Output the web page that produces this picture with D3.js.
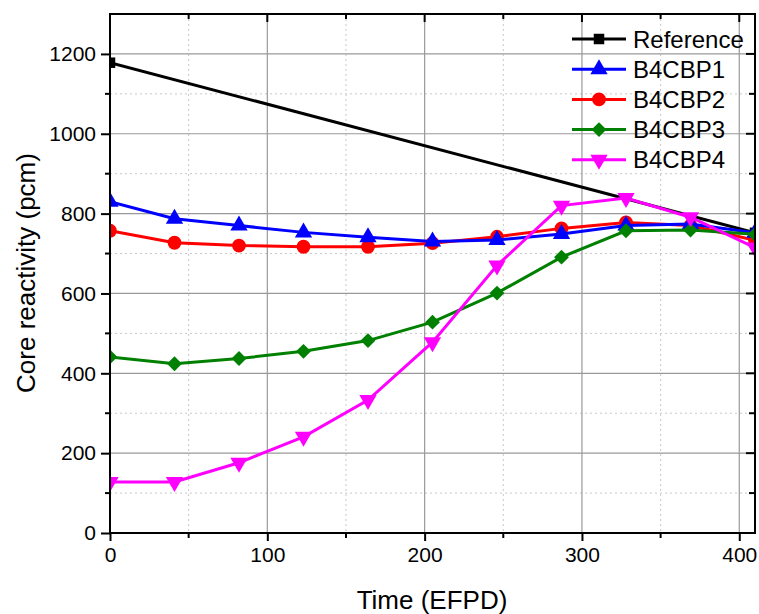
<!DOCTYPE html>
<html><head><meta charset="utf-8">
<script src="https://cdn.jsdelivr.net/npm/d3@7"></script>
<style>body{margin:0;background:#fff}svg{display:block}text{font-family:"Liberation Sans",Arial,sans-serif}</style>
</head><body><svg id="c" width="759" height="614"></svg>
<script>
const xTicks = [0, 100, 200, 300, 400];
const yTicks = [0, 200, 400, 600, 800, 1000, 1200];
const days = [0, 41, 82, 123, 164, 205, 246, 287, 328, 369, 410];
const refDays = [0, 410];
const refVals = [1178, 752];
const bp1 = [830, 787, 770, 753, 741, 730, 734, 749, 770, 774, 752];
const bp2 = [757, 727, 720, 717, 717, 726, 742, 763, 778, 770, 733];
const bp3 = [441, 424, 437, 455, 482, 528, 601, 691, 757, 759, 748];
const bp4 = [128, 128, 176, 241, 333, 478, 670, 820, 839, 791, 715];
const seriesNames = ["Reference", "B4CBP1", "B4CBP2", "B4CBP3", "B4CBP4"];
const colors = ["#000000", "#0000ff", "#ff0000", "#008000", "#ff00ff"];

const svg = d3.select("#c");
const L = 110, R = 755, T = 14, B = 533;
const x = d3.scaleLinear().domain([0, 410]).range([L, R]);
const y = d3.scaleLinear().domain([0, 1300]).range([B, T]);

// grid
const g = svg.append("g");
const xMinor = d3.range(50, 410, 100);
const yMinor = d3.range(100, 1300, 200);
g.selectAll(".xm").data(xMinor).enter().append("line")
  .attr("x1", d => x(d)).attr("x2", d => x(d)).attr("y1", T).attr("y2", B)
  .attr("stroke", "#c8c8c8").attr("stroke-width", 1).attr("stroke-dasharray", "2,3");
g.selectAll(".ym").data(yMinor).enter().append("line")
  .attr("y1", d => y(d)).attr("y2", d => y(d)).attr("x1", L).attr("x2", R)
  .attr("stroke", "#c8c8c8").attr("stroke-width", 1).attr("stroke-dasharray", "2,3");
g.selectAll(".xg").data(xTicks.slice(1)).enter().append("line")
  .attr("x1", d => x(d)).attr("x2", d => x(d)).attr("y1", T).attr("y2", B)
  .attr("stroke", "#999").attr("stroke-width", 1.2);
g.selectAll(".yg").data(yTicks.slice(1)).enter().append("line")
  .attr("y1", d => y(d)).attr("y2", d => y(d)).attr("x1", L).attr("x2", R)
  .attr("stroke", "#999").attr("stroke-width", 1.2);

svg.append("clipPath").attr("id", "clip").append("rect")
  .attr("x", L).attr("y", T).attr("width", R - L).attr("height", B - T);
const plot = svg.append("g").attr("clip-path", "url(#clip)");

const line = d3.line().x(d => x(d[0])).y(d => y(d[1]));
const series = [
  {name: seriesNames[0], color: colors[0], sym: d3.symbolSquare, size: 110, rot: 0, pts: refDays.map((d, i) => [d, refVals[i]])},
  {name: seriesNames[2], color: colors[2], sym: d3.symbolCircle, size: 150, rot: 0, pts: days.map((d, i) => [d, bp2[i]])},
  {name: seriesNames[1], color: colors[1], sym: d3.symbolTriangle, size: 130, rot: 0, pts: days.map((d, i) => [d, bp1[i]])},
  {name: seriesNames[3], color: colors[3], sym: d3.symbolSquare, size: 110, rot: 45, pts: days.map((d, i) => [d, bp3[i]])},
  {name: seriesNames[4], color: colors[4], sym: d3.symbolTriangle, size: 130, rot: 180, pts: days.map((d, i) => [d, bp4[i]])}
];
series.forEach(s => {
  plot.append("path").datum(s.pts).attr("d", line)
    .attr("fill", "none").attr("stroke", s.color).attr("stroke-width", 3);
  plot.selectAll(null).data(s.pts).enter().append("path")
    .attr("d", d3.symbol().type(s.sym).size(s.size))
    .attr("transform", d => `translate(${x(d[0])},${y(d[1])}) rotate(${s.rot})`)
    .attr("fill", s.color);
});

// axes
const ax = svg.append("g");
const bottom = d3.axisBottom(x).tickValues(xTicks).tickFormat(d3.format("d")).tickSize(8).tickSizeOuter(0).tickPadding(6);
const bg = ax.append("g").attr("transform", `translate(0,${B})`).call(bottom);
const left = d3.axisLeft(y).tickValues(yTicks).tickFormat(d3.format("d")).tickSize(9).tickSizeOuter(0).tickPadding(5);
const lg = ax.append("g").attr("transform", `translate(${L},0)`).call(left);
[bg, lg].forEach(a => {
  a.select(".domain").remove();
  a.selectAll("line").attr("stroke", "#000").attr("stroke-width", 2);
  a.selectAll("text").attr("font-size", 21).attr("fill", "#000")
    .style("font-family", '"Liberation Sans", Arial, sans-serif');
});
// minor outward ticks
ax.selectAll(".bm").data(xMinor).enter().append("line")
  .attr("x1", d => x(d)).attr("x2", d => x(d)).attr("y1", B).attr("y2", B + 5)
  .attr("stroke", "#000").attr("stroke-width", 2);
ax.selectAll(".lm").data(yMinor).enter().append("line")
  .attr("y1", d => y(d)).attr("y2", d => y(d)).attr("x1", L - 5).attr("x2", L)
  .attr("stroke", "#000").attr("stroke-width", 2);
// top/right inward ticks
ax.selectAll(".tt").data(xTicks.concat(xMinor)).enter().append("line")
  .attr("x1", d => x(d)).attr("x2", d => x(d)).attr("y1", T).attr("y2", d => T + (d % 100 === 0 ? 8 : 5))
  .attr("stroke", "#000").attr("stroke-width", 2);
ax.selectAll(".rt").data(yTicks.concat(yMinor)).enter().append("line")
  .attr("y1", d => y(d)).attr("y2", d => y(d)).attr("x1", d => R - (d % 200 === 0 ? 9 : 6)).attr("x2", R)
  .attr("stroke", "#000").attr("stroke-width", 2);
ax.append("rect").attr("x", L).attr("y", T).attr("width", R - L).attr("height", B - T)
  .attr("fill", "none").attr("stroke", "#000").attr("stroke-width", 2);

svg.append("text").attr("x", 432).attr("y", 609).attr("text-anchor", "middle")
  .attr("font-size", 26).text("Time (EFPD)");
svg.append("text").attr("transform", "translate(35,273) rotate(-90)").attr("text-anchor", "middle")
  .attr("font-size", 26).text("Core reactivity (pcm)");

// legend
const legOrder = [0, 1, 2, 3, 4];
const symFor = [d3.symbolSquare, d3.symbolTriangle, d3.symbolCircle, d3.symbolSquare, d3.symbolTriangle];
const sizeFor = [110, 130, 150, 110, 130];
const rotFor = [0, 0, 0, 45, 180];
const leg = svg.append("g");
legOrder.forEach((k, i) => {
  const yy = 39 + i * 30.2;
  leg.append("line").attr("x1", 572).attr("x2", 626).attr("y1", yy).attr("y2", yy)
    .attr("stroke", colors[k]).attr("stroke-width", 3);
  leg.append("path").attr("d", d3.symbol().type(symFor[k]).size(sizeFor[k]))
    .attr("transform", `translate(599,${yy}) rotate(${rotFor[k]})`).attr("fill", colors[k]);
  leg.append("text").attr("x", 633).attr("y", yy + 8.5).attr("font-size", 24).text(seriesNames[k]);
});
</script></body></html>
